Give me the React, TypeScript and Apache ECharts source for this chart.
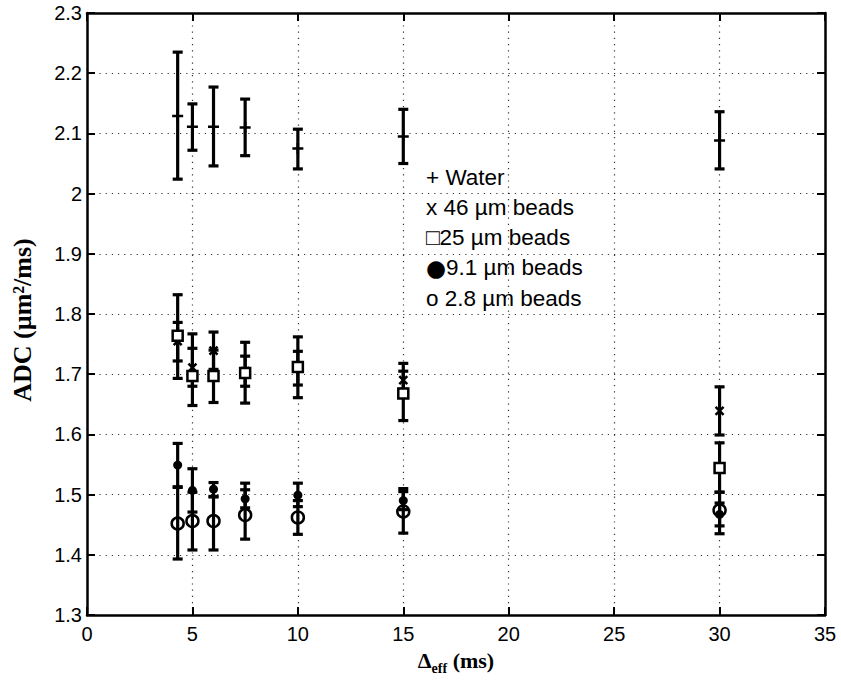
import React, { useEffect, useRef } from "react";
import * as echarts from "echarts";

// ---- data ----
const xs = [4.3, 5, 6, 7.5, 10, 15, 30];

const waterMean = [2.129, 2.111, 2.111, 2.11, 2.075, 2.095, 2.088];
const waterLow = [2.024, 2.072, 2.046, 2.063, 2.041, 2.05, 2.041];
const waterHigh = [2.235, 2.149, 2.177, 2.157, 2.107, 2.14, 2.136];

const b46Mean = [1.755, 1.711, 1.739, 1.705, 1.71, 1.69, 1.639];
const b46Low = [1.722, 1.68, 1.708, 1.68, 1.682, 1.675, 1.599];
const b46High = [1.786, 1.743, 1.77, 1.73, 1.738, 1.705, 1.679];

const b25Mean = [1.764, 1.697, 1.697, 1.702, 1.712, 1.668, 1.544];
const b25Low = [1.693, 1.648, 1.653, 1.652, 1.661, 1.623, 1.504];
const b25High = [1.832, 1.767, 1.74, 1.753, 1.762, 1.718, 1.586];

const b91Mean = [1.549, 1.507, 1.509, 1.493, 1.499, 1.49, 1.467];
const b91Low = [1.513, 1.471, 1.497, 1.478, 1.48, 1.475, 1.448];
const b91High = [1.585, 1.543, 1.52, 1.508, 1.519, 1.505, 1.486];

const b28Mean = [1.452, 1.456, 1.456, 1.466, 1.462, 1.472, 1.474];
const b28Low = [1.393, 1.408, 1.408, 1.426, 1.434, 1.436, 1.435];
const b28High = [1.512, 1.504, 1.496, 1.519, 1.49, 1.51, 1.504];

const xTicks = [0, 5, 10, 15, 20, 25, 30, 35];
const yTicks = [1.3, 1.4, 1.5, 1.6, 1.7, 1.8, 1.9, 2.0, 2.1, 2.2, 2.3];

const legendLines = [
  "{t|+ Water}",
  "{t|x 46 µm beads}",
  "{t|□25 µm beads}",
  "{c|●}{t|9.1 µm beads}",
  "{t|o 2.8 µm beads}",
];

const SANS = "'Liberation Sans', Arial, Helvetica, sans-serif";
const SERIF = "'Liberation Serif', 'Times New Roman', serif";

function errData(low: number[], high: number[]) {
  return xs.map((x, i) => [x, low[i], high[i]]);
}
function ptData(mean: number[]) {
  return xs.map((x, i) => [x, mean[i]]);
}

const CAP = 5;
function renderErr(params: any, api: any) {
  const x = api.value(0);
  const lo = api.coord([x, api.value(1)]);
  const hi = api.coord([x, api.value(2)]);
  const style = { stroke: "#000", lineWidth: 3.2, fill: "none" };
  return {
    type: "group",
    children: [
      { type: "line", shape: { x1: lo[0], y1: lo[1], x2: hi[0], y2: hi[1] }, style },
      { type: "line", shape: { x1: hi[0] - CAP, y1: hi[1], x2: hi[0] + CAP, y2: hi[1] }, style },
      { type: "line", shape: { x1: lo[0] - CAP, y1: lo[1], x2: lo[0] + CAP, y2: lo[1] }, style },
    ],
  };
}

function errSeries(low: number[], high: number[]) {
  return {
    type: "custom",
    renderItem: renderErr,
    data: errData(low, high),
    encode: { x: 0, y: [1, 2] },
    z: 2,
    silent: true,
  };
}

export default function App() {
  const ref = useRef<HTMLDivElement>(null);
  useEffect(() => {
    if (!ref.current) return;
    const chart = echarts.init(ref.current, null, { renderer: "svg" });
    const gridLeft = 87;
    const gridTop = 13;
    const gridW = 738;
    const gridH = 602;
    const tickLabel = { fontFamily: SANS, fontSize: 20, color: "#000" };
    const option: any = {
      animation: false,
      backgroundColor: "#fff",
      grid: { left: gridLeft, top: gridTop, width: gridW, height: gridH, containLabel: false },
      xAxis: [
        {
          type: "value",
          min: 0,
          max: 35,
          interval: 5,
          axisLine: { show: true, onZero: false, lineStyle: { color: "#000", width: 2.5 } },
          axisTick: { show: true, inside: true, length: 8, lineStyle: { color: "#000", width: 2 } },
          axisLabel: { ...tickLabel, margin: 9, formatter: (v: number) => String(v) },
          splitLine: { show: true, lineStyle: { color: "#000", width: 1.2, type: [1.2, 5], opacity: 0.8 } },
        },
        {
          type: "value",
          position: "top",
          min: 0,
          max: 35,
          interval: 5,
          axisLine: { show: true, onZero: false, lineStyle: { color: "#000", width: 2.5 } },
          axisTick: { show: true, inside: true, length: 8, lineStyle: { color: "#000", width: 2 } },
          axisLabel: { show: false },
          splitLine: { show: false },
        },
      ],
      yAxis: [
        {
          type: "value",
          min: 1.3,
          max: 2.3,
          interval: 0.1,
          axisLine: { show: true, onZero: false, lineStyle: { color: "#000", width: 2.5 } },
          axisTick: { show: true, inside: true, length: 8, lineStyle: { color: "#000", width: 2 } },
          axisLabel: {
            ...tickLabel,
            margin: 5,
            formatter: (v: number) => String(Math.round(v * 10) / 10),
          },
          splitLine: { show: true, lineStyle: { color: "#000", width: 1.2, type: [1.2, 5], opacity: 0.8 } },
        },
        {
          type: "value",
          position: "right",
          min: 1.3,
          max: 2.3,
          interval: 0.1,
          axisLine: { show: true, onZero: false, lineStyle: { color: "#000", width: 2.5 } },
          axisTick: { show: true, inside: true, length: 8, lineStyle: { color: "#000", width: 2 } },
          axisLabel: { show: false },
          splitLine: { show: false },
        },
      ],
      series: [
        errSeries(waterLow, waterHigh),
        errSeries(b46Low, b46High),
        errSeries(b25Low, b25High),
        errSeries(b91Low, b91High),
        errSeries(b28Low, b28High),
        {
          name: "Water",
          type: "scatter",
          data: ptData(waterMean),
          symbol: "path://M5,0L5,10M0,5L10,5",
          symbolSize: 11,
          itemStyle: { color: "none", borderColor: "#000", borderWidth: 2.5, opacity: 1 },
          z: 3,
        },
        {
          name: "46 µm beads",
          type: "scatter",
          data: ptData(b46Mean),
          symbol: "path://M0,0L10,10M10,0L0,10",
          symbolSize: 8,
          itemStyle: { color: "none", borderColor: "#000", borderWidth: 2.5, opacity: 1 },
          z: 3,
        },
        {
          name: "25 µm beads",
          type: "scatter",
          data: ptData(b25Mean),
          symbol: "rect",
          symbolSize: 10,
          itemStyle: { color: "#fff", borderColor: "#000", borderWidth: 2.5, opacity: 1 },
          z: 3,
        },
        {
          name: "9.1 µm beads",
          type: "scatter",
          data: ptData(b91Mean),
          symbol: "circle",
          symbolSize: 9,
          itemStyle: { color: "#000", opacity: 1 },
          z: 4,
        },
        {
          name: "2.8 µm beads",
          type: "scatter",
          data: ptData(b28Mean),
          symbol: "circle",
          symbolSize: 12,
          itemStyle: { color: "rgba(255,255,255,0)", borderColor: "#000", borderWidth: 2.5, opacity: 1 },
          z: 4,
        },
      ],
      graphic: [
        ...legendLines.map((t, i) => ({
          type: "text",
          x: 426,
          y: 177 + i * 30.3,
          z: 10,
          style: {
            text: t,
            verticalAlign: "middle",
            fill: "#000",
            rich: {
              t: { fontFamily: SANS, fontSize: 22.5, fill: "#000" },
              c: { fontFamily: "'DejaVu Sans', sans-serif", fontSize: 23, fill: "#000" },
            },
          },
        })),
        {
          type: "text",
          x: 22,
          y: 320,
          rotation: Math.PI / 2,
          style: {
            text: "ADC (µm²/ms)",
            fontFamily: SERIF,
            fontWeight: "bold",
            fontSize: 26,
            fill: "#000",
            align: "center",
            verticalAlign: "middle",
          },
        },
        {
          type: "text",
          x: 456,
          y: 660,
          style: {
            text: "{a|Δ}{s|eff}{a| (ms)}",
            align: "center",
            verticalAlign: "middle",
            rich: {
              a: { fontFamily: SERIF, fontWeight: "bold", fontSize: 22, fill: "#000", verticalAlign: "bottom" },
              s: {
                fontFamily: SERIF,
                fontWeight: "bold",
                fontSize: 14,
                fill: "#000",
                verticalAlign: "bottom",
                padding: [0, 0, -4, 0],
              },
            },
          },
        },
      ],
    };
    chart.setOption(option);
    return () => chart.dispose();
  }, []);
  return (
    <div
      ref={ref}
      style={{ position: "absolute", left: 0, top: 0, width: 841, height: 682, background: "#fff" }}
    />
  );
}
